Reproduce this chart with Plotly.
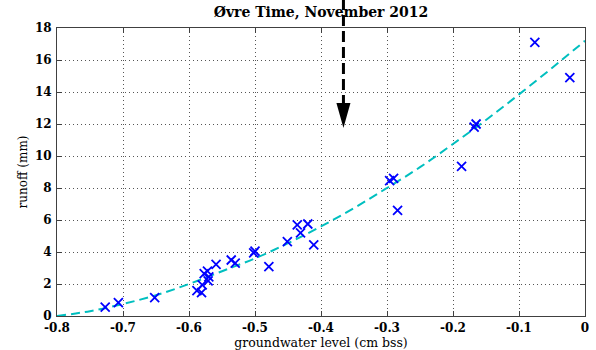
import plotly.graph_objects as go

# ---- data ----
gw_level = [-0.727, -0.707, -0.652, -0.588, -0.581, -0.580, -0.571, -0.570, -0.577, -0.572,
            -0.559, -0.536, -0.530, -0.502, -0.500, -0.479, -0.451, -0.436, -0.420, -0.431,
            -0.411, -0.296, -0.290, -0.284, -0.187, -0.168, -0.165, -0.076, -0.023]
runoff = [0.55, 0.83, 1.15, 1.58, 1.46, 1.95, 2.20, 2.45, 2.65, 2.80,
          3.23, 3.50, 3.30, 3.95, 4.05, 3.08, 4.65, 5.69, 5.75, 5.20,
          4.44, 8.46, 8.60, 6.60, 9.35, 11.80, 12.00, 17.10, 14.90]

fit_x = [-0.8, -0.75, -0.7, -0.65, -0.6, -0.55, -0.5, -0.45, -0.4, -0.35,
         -0.3, -0.25, -0.2, -0.15, -0.1, -0.05, 0.0]
fit_y = [0.0, 0.3, 0.75, 1.3, 2.0, 2.8, 3.6, 4.55, 5.6, 6.75,
         8.0, 9.3, 10.75, 12.25, 13.85, 15.5, 17.2]

x_ticks = [-0.8, -0.7, -0.6, -0.5, -0.4, -0.3, -0.2, -0.1, 0]
x_ticklabels = ["-0.8", "-0.7", "-0.6", "-0.5", "-0.4", "-0.3", "-0.2", "-0.1", "0"]
y_ticks = [0, 2, 4, 6, 8, 10, 12, 14, 16, 18]

arrow_x = -0.366      # x position of the marker arrow
arrow_tip_y = 11.75   # data-y of the arrow tip
Y_MAX = 18

title = "Øvre Time, November 2012"
x_title = "groundwater level (cm bss)"
y_title = "runoff (mm)"

serif = "DejaVu Serif"

fig = go.Figure()
fig.add_trace(go.Scatter(
    x=fit_x, y=fit_y, mode="lines", line=dict(color="#00bfbf", width=2, dash="9px,5px", shape="spline"),
    showlegend=False, hoverinfo="skip"))
fig.add_trace(go.Scatter(
    x=gw_level, y=runoff, mode="markers",
    marker=dict(symbol="x-thin", size=9, line=dict(color="#0000ff", width=1.8), color="#0000ff"),
    showlegend=False))

tip_paper = arrow_tip_y / Y_MAX
fig.add_shape(type="line", xref="x", yref="paper", ysizemode="pixel",
              yanchor=tip_paper, x0=arrow_x, x1=arrow_x, y0=22, y1=140,
              line=dict(color="black", width=3, dash="11px,5px"), layer="above")
fig.add_shape(type="path", xref="x", yref="paper", xsizemode="pixel", ysizemode="pixel",
              xanchor=arrow_x, yanchor=tip_paper, path="M-7,25 L7,25 L0,0 Z",
              fillcolor="black", line=dict(width=0), layer="above")

axis_common = dict(
    showline=True, linecolor="#404040", linewidth=1, mirror="ticks",
    ticks="inside", ticklen=5, tickcolor="#404040",
    showgrid=True, gridcolor="#555555", gridwidth=1, griddash="1px,3px",
    zeroline=False, automargin=False,
    tickfont=dict(family=serif, size=12, color="black", weight="bold"),
)

fig.update_xaxes(range=[-0.8, 0], tickvals=x_ticks, ticktext=x_ticklabels, ticklabelstandoff=1,
                 title=dict(text=x_title, font=dict(family=serif, size=12.5, color="black"), standoff=4),
                 **axis_common)
fig.update_yaxes(range=[0, 18], tickvals=y_ticks, ticklabelstandoff=2,
                 title=dict(text=y_title, font=dict(family=serif, size=12, color="black"), standoff=4),
                 **axis_common)

fig.update_layout(
    width=596, height=350,
    margin=dict(l=57, r=11, t=28, b=34),
    paper_bgcolor="white", plot_bgcolor="white",
    title=dict(text=title, x=0.5, xref="paper", y=1 - 12 / 350, yref="container", yanchor="middle",
               font=dict(family=serif, size=14, color="black", weight="bold")),
)

fig.write_html("out.html", config={"displayModeBar": False},
               post_script="document.body.style.margin='0px';")
